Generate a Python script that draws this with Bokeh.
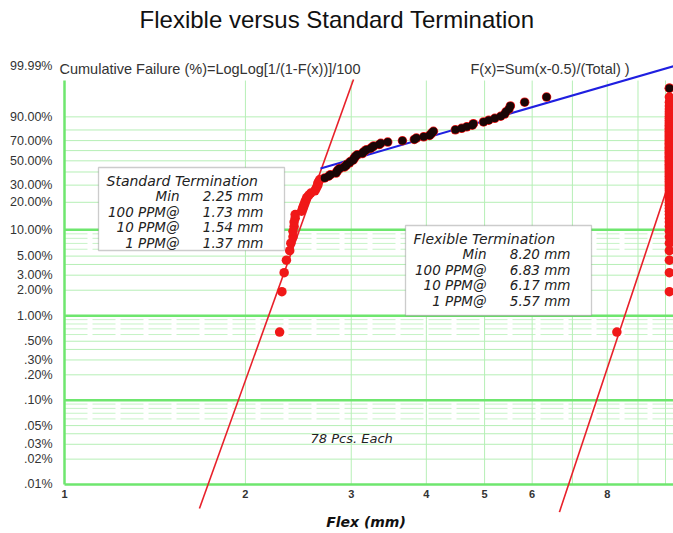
import numpy as np
from bokeh.plotting import figure
from bokeh.models import Range1d, FixedTicker, CustomJSTickFormatter, Label, BoxAnnotation
from bokeh.embed import file_html
from bokeh.resources import INLINE

# ---------------- data ----------------
TITLE = "Flexible versus Standard Termination"
N_PIECES = 78

# Standard termination: flex at failure (mm), sorted
std_flex_mm = [2.28, 2.30, 2.32, 2.34, 2.37, 2.38, 2.40, 2.40, 2.41, 2.41,
               2.42, 2.42, 2.48, 2.49, 2.50, 2.51, 2.52, 2.53, 2.55, 2.57,
               2.61, 2.62, 2.63, 2.64, 2.64, 2.65, 2.66, 2.71, 2.75, 2.77,
               2.83, 2.84, 2.85, 2.87, 2.92, 2.94, 2.95, 2.98, 2.99, 3.02,
               3.03, 3.04, 3.05, 3.07, 3.13, 3.14, 3.16, 3.18, 3.23, 3.25,
               3.27, 3.34, 3.36, 3.45, 3.65, 3.82, 3.85, 3.96, 4.05, 4.07,
               4.09, 4.11, 4.47, 4.58, 4.67, 4.77, 4.79, 4.98, 5.08, 5.20,
               5.32, 5.40, 5.43, 5.49, 5.52, 5.83, 6.34, 10.15]
std_upper_mode_first_rank = 28          # ranks drawn as dark points

# Flexible termination: one failure, the rest reached the test limit
flex_flex_mm = [8.30] + [10.15] * 77

# Fitted Weibull lines (mm, cumulative %)
std_fit_mm = [1.677, 3.026]
std_fit_pct = [0.0052, 99.83]
flex_fit_mm = [6.66, 10.32]
flex_fit_pct = [0.0047, 43.0]
upper_fit_mm = [2.667, 10.32]
upper_fit_pct = [43.0, 99.99]

x_tick_mm = [1, 2, 3, 4, 5, 6, 8]
y_tick_pct = [0.01, 0.02, 0.03, 0.05, 0.1, 0.2, 0.3, 0.5, 1, 2, 3, 5,
              10, 20, 30, 50, 70, 90, 99.99]
y_tick_labels = [".01%", ".02%", ".03%", ".05%", ".10%", ".20%", ".30%", ".50%",
                 "1.00%", "2.00%", "3.00%", "5.00%", "10.00%", "20.00%",
                 "30.00%", "50.00%", "70.00%", "90.00%", "99.99%"]

grid_major_pct = [0.01, 0.1, 1, 10]
grid_minor_pct = [0.02, 0.03, 0.04, 0.05, 0.2, 0.3, 0.4, 0.5, 2, 3, 4, 5,
                  20, 30, 40, 50, 60, 70, 80, 90]
grid_dash_pct = [0.06, 0.07, 0.08, 0.09, 0.6, 0.7, 0.8, 0.9, 6, 7, 8, 9]
grid_x_major = [1]
grid_x_minor = [2, 3, 4, 5, 6, 7, 8, 9, 10]
grid_y_span_pct = [0.01, 99.8]

stat_names = ["Min", "100 PPM@", "10 PPM@", "1 PPM@"]
std_stat_values = ["2.25 mm", "1.73 mm", "1.54 mm", "1.37 mm"]
flex_stat_values = ["8.20 mm", "6.83 mm", "6.17 mm", "5.57 mm"]


def loglog(pct):
    f = np.asarray(pct, dtype=float) / 100.0
    return np.log(-np.log(1.0 - f))


# plotting positions F = (rank - 0.5) / total  (as stated on the chart)
ranks = np.arange(1, N_PIECES + 1)
pos_pct = (ranks - 0.5) / N_PIECES * 100.0


# --------------- layout helpers (pixel -> data) ---------------
def px_x(px):
    return 10 ** ((px - 64) / 601.0)


def py_w(py):
    return (146.9 - py) / 36.6


p = figure(width=673, height=533, x_axis_type="log",
           x_range=Range1d(px_x(58), px_x(673)),
           y_range=Range1d(py_w(512), py_w(0)),
           output_backend="svg", toolbar_location=None,
           min_border_left=58, min_border_right=0,
           min_border_top=0, min_border_bottom=21)
p.outline_line_color = None
p.xgrid.visible = False
p.ygrid.visible = False
p.background_fill_color = "white"

# axes
p.yaxis.ticker = FixedTicker(ticks=list(loglog(y_tick_pct)))
p.yaxis.formatter = CustomJSTickFormatter(
    args=dict(tw=list(loglog(y_tick_pct)), labs=y_tick_labels),
    code="""
    let b = 0;
    for (let i = 1; i < tw.length; i++) {
        if (Math.abs(tw[i] - tick) < Math.abs(tw[b] - tick)) b = i;
    }
    return labs[b];
    """)
p.yaxis.axis_line_color = None
p.yaxis.major_tick_line_color = None
p.yaxis.minor_tick_line_color = None
p.yaxis.major_label_standoff = 0
p.yaxis.major_label_text_font = "Liberation Sans"
p.yaxis.major_label_text_font_size = "12.5px"
p.yaxis.major_label_text_color = "#333333"

p.xaxis.ticker = FixedTicker(ticks=x_tick_mm)
p.xaxis.formatter = CustomJSTickFormatter(code="return String(Math.round(tick));")
p.xaxis.axis_line_color = None
p.xaxis.major_tick_line_color = None
p.xaxis.minor_tick_line_color = None
p.xaxis.major_label_standoff = -29
p.xaxis.major_label_text_font = "Liberation Sans"
p.xaxis.major_label_text_font_size = "11px"
p.xaxis.major_label_text_font_style = "bold"
p.xaxis.major_label_text_color = "#333333"
p.xaxis.axis_label = "Flex (mm)"
p.xaxis.axis_label_text_font = "DejaVu Sans"
p.xaxis.axis_label_text_font_size = "14px"
p.xaxis.axis_label_text_font_style = "bold italic"
p.xaxis.axis_label_text_color = "#111111"
p.xaxis.axis_label_standoff = 13

# grid lines
x_lo, x_hi = 1.0, px_x(673)
gy0, gy1 = loglog(grid_y_span_pct)


def hlines(pcts, **kw):
    w = loglog(pcts)
    p.segment(x0=[x_lo] * len(w), x1=[x_hi] * len(w), y0=w, y1=w, **kw)


def vlines(xs, **kw):
    p.segment(x0=xs, x1=xs, y0=[gy0] * len(xs), y1=[gy1] * len(xs), **kw)


hlines(grid_dash_pct, line_color="#c6f3c6", line_width=1, line_dash="23 5")
hlines(grid_minor_pct, line_color="#b6efb6", line_width=1)
vlines(grid_x_minor, line_color="#b6efb6", line_width=1)
hlines(grid_major_pct, line_color="#6ee66e", line_width=2.5)
vlines(grid_x_major, line_color="#6ee66e", line_width=2.5)

# fitted lines
p.line(std_fit_mm, loglog(std_fit_pct), line_color="#e8202a", line_width=1.6)
p.line(flex_fit_mm, loglog(flex_fit_pct), line_color="#e8202a", line_width=1.6)
p.line(upper_fit_mm, loglog(upper_fit_pct), line_color="#1f1fe0", line_width=2)

# points
p.scatter(flex_flex_mm, loglog(pos_pct), size=9.5, marker="circle",
          fill_color="#f01818", line_color=None)
p.scatter(std_flex_mm, loglog(pos_pct), size=9.5, marker="circle",
          fill_color="#f01818", line_color=None)
k = std_upper_mode_first_rank - 1
p.scatter(std_flex_mm[k:], loglog(pos_pct[k:]), size=8, marker="circle",
          fill_color="#1a0606", line_color=None)


# annotations
def label(px, py, text, align="left", size="13.5px", style="italic",
          font="DejaVu Sans", color="#222222", **kw):
    lab = Label(x=px_x(px), y=py_w(py), text=text, text_align=align,
                text_baseline="middle", text_font=font, text_font_size=size,
                text_font_style=style, text_color=color, **kw)
    p.add_layout(lab)


label(336.5, 19, TITLE, align="center", size="24px", style="normal",
      font="Liberation Sans", color="#111111")
label(59, 68, "Cumulative Failure (%)=LogLog[1/(1-F(x))]/100",
      font="Liberation Sans", style="normal", color="#333333", size="14.5px")
label(470, 68, "F(x)=Sum(x-0.5)/(Total) )", font="Liberation Sans",
      style="normal", color="#333333", size="14.5px",
      background_fill_color="white")


def stat_box(left, top, right, bottom, title, values, tx, ty, name_r, val_r):
    p.add_layout(BoxAnnotation(left=px_x(left), right=px_x(right),
                               top=py_w(top), bottom=py_w(bottom),
                               fill_color="white", fill_alpha=1.0,
                               line_color="#555555", line_width=1.3))
    label(tx, ty, title, size="14px")
    for i, (nm, vl) in enumerate(zip(stat_names, values)):
        yy = ty + 15.5 * (i + 1)
        label(name_r, yy, nm, align="right")
        label(val_r, yy, vl, align="right")


stat_box(98, 167, 284, 250, "Standard Termination", std_stat_values,
         106, 180, 179, 263)
stat_box(405, 225, 591, 315, "Flexible Termination", flex_stat_values,
         413, 238, 486, 570)

label(310, 438, "78 Pcs. Each", size="13px")

open("out.html", "w").write(file_html(p, INLINE))
